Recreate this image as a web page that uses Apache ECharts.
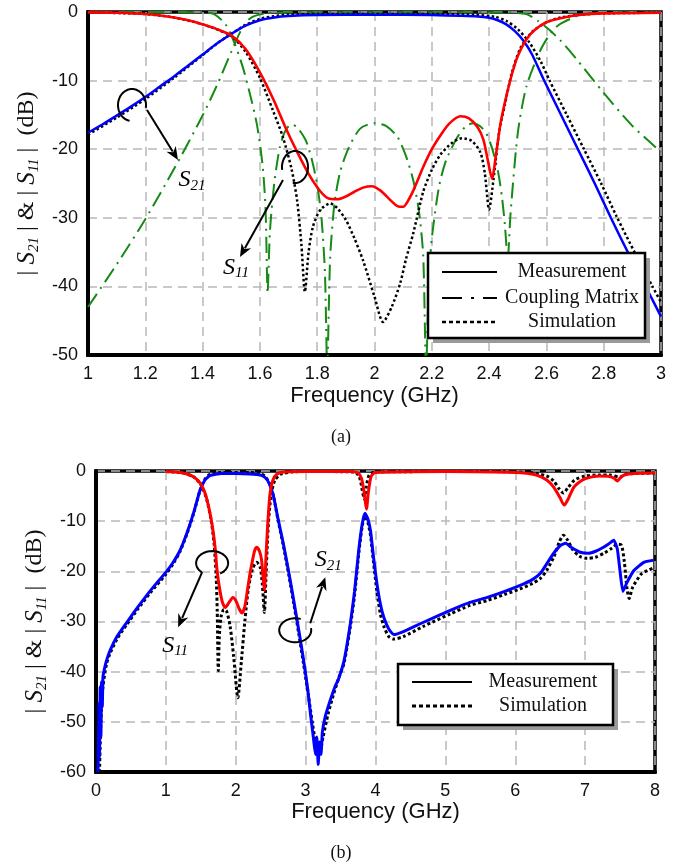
<!DOCTYPE html>
<html><head><meta charset="utf-8">
<script src="https://cdn.jsdelivr.net/npm/echarts@6/dist/echarts.min.js"></script>
<style>html,body{margin:0;padding:0;background:#fff}#c{width:681px;height:867px}</style>
</head><body><div id="c"></div>
<script>
// ---------- (a) 1–3 GHz ----------
const topS21Meas = [[1.0,-17.6],[1.05,-16.4],[1.1,-15.1],[1.15,-13.8],[1.2,-12.4],[1.25,-10.9],[1.3,-9.4],[1.35,-7.8],[1.4,-6.2],[1.45,-4.6],[1.5,-3.2],[1.55,-2.0],[1.6,-1.2],[1.65,-0.8],[1.7,-0.6],[1.8,-0.45],[2.0,-0.4],[2.2,-0.45],[2.3,-0.55],[2.36,-0.65],[2.4,-0.85],[2.43,-1.2],[2.46,-1.8],[2.49,-2.8],[2.52,-4.2],[2.55,-6.2],[2.59,-9.8],[2.65,-14.9],[2.71,-20],[2.77,-25.1],[2.825,-30],[2.89,-35.5],[2.95,-40.3],[3.0,-44.4]];
const topS21Sim = [[1.0,-17.9],[1.1,-15.4],[1.2,-12.7],[1.3,-9.6],[1.4,-6.3],[1.45,-4.6],[1.5,-3.2],[1.55,-1.9],[1.6,-1.0],[1.65,-0.6],[1.7,-0.4],[1.8,-0.3],[2.0,-0.3],[2.2,-0.3],[2.35,-0.4],[2.42,-0.7],[2.46,-1.3],[2.5,-2.5],[2.54,-4.4],[2.58,-7.2],[2.61,-9.9],[2.67,-14.9],[2.73,-19.9],[2.79,-24.9],[2.845,-29.8],[2.91,-35.2],[2.97,-40],[3.0,-42.3]];
const topS11Meas = [[1.0,-0.05],[1.1,-0.1],[1.2,-0.3],[1.3,-0.8],[1.35,-1.2],[1.4,-1.8],[1.45,-2.5],[1.5,-3.4],[1.55,-5.4],[1.6,-8.8],[1.65,-13],[1.69,-16.9],[1.73,-20.4],[1.77,-23.6],[1.81,-26.1],[1.84,-27.2],[1.87,-27.3],[1.9,-26.9],[1.93,-26.2],[1.96,-25.6],[1.99,-25.4],[2.02,-26],[2.05,-27.2],[2.08,-28.3],[2.1,-28.4],[2.12,-27.3],[2.14,-25.6],[2.17,-22.6],[2.2,-20],[2.23,-18],[2.26,-16.3],[2.3,-15.2],[2.33,-15.5],[2.36,-16.8],[2.38,-18.6],[2.395,-21.5],[2.41,-24.3],[2.425,-20.5],[2.44,-16.2],[2.46,-12.3],[2.48,-9],[2.5,-6.4],[2.53,-4.0],[2.56,-2.6],[2.6,-1.5],[2.65,-0.9],[2.72,-0.4],[2.8,-0.2],[3.0,-0.1]];
const topS11Sim = [[1.0,-0.05],[1.2,-0.3],[1.3,-0.8],[1.4,-1.8],[1.5,-3.5],[1.55,-5.8],[1.6,-9.6],[1.645,-14.3],[1.68,-18.2],[1.71,-22.8],[1.73,-27.5],[1.745,-34],[1.757,-40.8],[1.77,-35],[1.785,-31.3],[1.81,-28.9],[1.845,-27.9],[1.87,-28.6],[1.9,-30.3],[1.93,-33],[1.96,-36.2],[2.0,-41.5],[2.03,-45.2],[2.06,-43],[2.09,-39.5],[2.11,-36],[2.135,-32.3],[2.17,-26.2],[2.2,-23],[2.23,-20.8],[2.27,-19.1],[2.305,-18.4],[2.34,-18.8],[2.37,-20.5],[2.385,-23.5],[2.4,-28.8],[2.415,-24.5],[2.435,-17.5],[2.455,-13.5],[2.48,-8.8],[2.51,-5.2],[2.55,-2.9],[2.6,-1.5],[2.65,-0.8],[2.72,-0.4],[2.8,-0.2],[3.0,-0.1]];
const topCMS21 = [[1.0,-43],[1.1,-36.8],[1.2,-30.2],[1.3,-22.9],[1.4,-15.1],[1.45,-10.7],[1.5,-5.8],[1.53,-3.0],[1.555,-1.3],[1.58,-0.6],[1.62,-0.2],[1.7,-0.05],[2.4,-0.05],[2.48,-0.1],[2.53,-0.3],[2.57,-1.3],[2.61,-2.6],[2.65,-4.2],[2.7,-6.6],[2.8,-11.8],[2.9,-16.6],[3.0,-20.4]];
const topCMS11 = [[1.0,0],[1.4,-0.05],[1.44,-0.3],[1.48,-1.8],[1.51,-4.4],[1.54,-8],[1.565,-11.9],[1.59,-16.5],[1.61,-22.6],[1.62,-29],[1.627,-41],[1.635,-32],[1.65,-25],[1.67,-19.6],[1.69,-17.2],[1.71,-16.4],[1.73,-16.8],[1.76,-18.7],[1.78,-21.3],[1.8,-25.2],[1.815,-30],[1.827,-38],[1.835,-52],[1.845,-36],[1.86,-28],[1.88,-23.3],[1.91,-19.8],[1.95,-17],[2.0,-16.2],[2.04,-16.6],[2.08,-18.2],[2.11,-21],[2.135,-24.5],[2.155,-29],[2.17,-35.5],[2.18,-52],[2.19,-39],[2.2,-33],[2.225,-25.5],[2.25,-21.6],[2.29,-18.2],[2.32,-16.6],[2.345,-16.2],[2.37,-16.7],[2.39,-17.7],[2.41,-19.8],[2.43,-23],[2.445,-27],[2.455,-31],[2.465,-36],[2.475,-29.3],[2.5,-17.7],[2.53,-10.9],[2.58,-5.5],[2.62,-2.8],[2.65,-1.7],[2.72,-0.4],[2.8,-0.1],[3.0,0]];

// ---------- (b) 0–8 GHz ----------
const botS21Meas = [[0.03,-60],[0.04,-46],[0.05,-57],[0.06,-43],[0.07,-53],[0.08,-42],[0.09,-47],[0.1,-41],[0.12,-39.5],[0.15,-37.8],[0.2,-35.8],[0.3,-33],[0.44,-30.2],[0.6,-27.1],[0.77,-24],[0.9,-21.8],[1.0,-20.2],[1.1,-18.3],[1.2,-15.9],[1.3,-12.4],[1.4,-8.2],[1.49,-3.8],[1.56,-1.8],[1.63,-0.9],[1.8,-0.5],[2.0,-0.5],[2.2,-0.6],[2.35,-0.8],[2.42,-1.3],[2.48,-2.5],[2.54,-5],[2.6,-9.2],[2.68,-14.4],[2.76,-20.3],[2.83,-25.8],[2.9,-31.6],[2.97,-37.6],[3.03,-43.5],[3.07,-48.5],[3.11,-53],[3.14,-56.5],[3.16,-53],[3.18,-58.5],[3.2,-54],[3.22,-56.5],[3.24,-52],[3.28,-49],[3.35,-45.8],[3.42,-43],[3.47,-41.5],[3.55,-37.8],[3.64,-30.4],[3.7,-24],[3.76,-15.8],[3.81,-10.5],[3.85,-8.4],[3.89,-9.5],[3.93,-12],[3.97,-17],[4.02,-22.4],[4.07,-26.5],[4.12,-29.2],[4.19,-31.5],[4.26,-32.6],[4.4,-32],[4.68,-30.2],[5.07,-27.8],[5.35,-26.2],[5.6,-25.2],[5.85,-24],[6.07,-22.8],[6.25,-21.6],[6.36,-20.4],[6.45,-18.5],[6.55,-16.4],[6.65,-14.8],[6.72,-14.4],[6.8,-15.2],[6.93,-16.2],[7.05,-16.4],[7.15,-16],[7.25,-15.3],[7.33,-14.6],[7.41,-13.8],[7.46,-15.5],[7.5,-20],[7.54,-24],[7.6,-22.2],[7.7,-19.8],[7.84,-18.2],[7.98,-17.8]];
const botS21Sim = [[0.05,-60],[0.07,-50],[0.1,-43],[0.15,-38.5],[0.2,-36.4],[0.3,-33.5],[0.44,-30.6],[0.6,-27.5],[0.77,-24.4],[1.0,-20.6],[1.1,-18.6],[1.2,-16.1],[1.3,-12.6],[1.4,-8.3],[1.49,-3.8],[1.56,-1.6],[1.63,-0.7],[1.8,-0.3],[2.2,-0.3],[2.35,-0.5],[2.42,-1.1],[2.48,-2.4],[2.54,-5],[2.6,-9.4],[2.68,-14.8],[2.76,-20.8],[2.83,-26.4],[2.9,-32.3],[2.97,-38.4],[3.04,-44.8],[3.1,-50.5],[3.15,-54.5],[3.2,-56],[3.25,-53],[3.32,-48.5],[3.4,-44.5],[3.48,-41],[3.55,-38.3],[3.64,-31],[3.7,-24.8],[3.76,-16.5],[3.81,-11],[3.85,-9],[3.89,-10.2],[3.93,-13],[3.97,-18],[4.02,-24],[4.07,-28.5],[4.12,-31],[4.19,-33],[4.26,-33.5],[4.4,-33],[4.68,-31],[5.07,-28.5],[5.35,-26.8],[5.6,-25.8],[5.85,-24.6],[6.07,-23.5],[6.25,-22.4],[6.36,-21.4],[6.45,-19.8],[6.55,-17.2],[6.63,-14.2],[6.69,-12.8],[6.75,-13.8],[6.82,-15.6],[6.92,-17],[7.03,-17.4],[7.15,-17.2],[7.28,-16.3],[7.38,-15.4],[7.46,-14.6],[7.52,-14.8],[7.56,-18],[7.6,-23.5],[7.63,-25.4],[7.68,-23.2],[7.8,-20.6],[7.9,-19.8],[8.0,-19.2]];
const botS11Meas = [[1.0,-0.1],[1.2,-0.3],[1.3,-0.6],[1.4,-1.2],[1.49,-2.4],[1.55,-4],[1.59,-5.8],[1.64,-9],[1.68,-12.4],[1.71,-16],[1.73,-19.5],[1.77,-23.5],[1.81,-26.2],[1.85,-27.2],[1.9,-26.3],[1.96,-25.2],[2.0,-25.8],[2.05,-27.5],[2.09,-28.3],[2.13,-27],[2.17,-23.5],[2.2,-20.8],[2.23,-18.5],[2.27,-15.9],[2.3,-15.2],[2.34,-16],[2.37,-17.8],[2.39,-21],[2.41,-23.8],[2.43,-18],[2.45,-12.4],[2.47,-8],[2.49,-4.6],[2.53,-1.9],[2.59,-0.6],[2.7,-0.2],[3.0,-0.1],[3.65,-0.1],[3.75,-0.4],[3.8,-1.5],[3.84,-4.5],[3.87,-7.6],[3.9,-4],[3.94,-1],[4.0,-0.3],[5.0,-0.1],[6.0,-0.3],[6.3,-0.8],[6.45,-1.8],[6.55,-3.2],[6.64,-5.3],[6.7,-6.8],[6.76,-5.5],[6.84,-3.2],[6.95,-1.9],[7.03,-1.4],[7.2,-1.0],[7.35,-1.1],[7.42,-1.5],[7.46,-2.0],[7.5,-1.4],[7.56,-0.8],[7.7,-0.5],[8.0,-0.4]];
const botS11Sim = [[1.0,-0.1],[1.2,-0.3],[1.3,-0.6],[1.4,-1.2],[1.49,-2.5],[1.55,-4.2],[1.6,-6.5],[1.65,-10],[1.69,-14.5],[1.72,-21],[1.735,-28],[1.75,-39.8],[1.765,-33],[1.79,-29],[1.83,-27.6],[1.87,-28],[1.92,-31],[1.97,-37],[2.03,-45.2],[2.08,-38],[2.13,-30],[2.18,-23.5],[2.24,-19.5],[2.3,-18.2],[2.35,-19.2],[2.38,-22.5],[2.41,-28.2],[2.43,-22],[2.455,-13.5],[2.48,-8],[2.51,-4.5],[2.56,-1.8],[2.65,-0.6],[2.8,-0.2],[3.0,-0.1],[3.7,-0.2],[3.77,-1.2],[3.81,-3.8],[3.84,-5.6],[3.87,-3],[3.91,-0.8],[4.0,-0.2],[5.5,-0.1],[6.2,-0.3],[6.45,-1],[6.55,-2],[6.63,-3.6],[6.69,-4.4],[6.75,-3.4],[6.85,-1.8],[7.0,-1.0],[7.2,-0.8],[7.35,-0.8],[7.5,-1.2],[7.6,-0.6],[8.0,-0.4]];

const legendTop = ['Measurement','Coupling Matrix','Simulation'];
const legendBot = ['Measurement','Simulation'];

const SANS = 'Liberation Sans, Arial, sans-serif';
const SERIF = 'Liberation Serif, Times New Roman, serif';
const chart = echarts.init(document.getElementById('c'), null, {renderer:'canvas'});

const yRich = {
  b:{fontFamily:SERIF,fontSize:24,color:'#111',lineHeight:28},
  s:{fontFamily:SERIF,fontStyle:'italic',fontSize:25,color:'#111',lineHeight:28},
  sub:{fontFamily:SERIF,fontStyle:'italic',fontSize:15,color:'#111',lineHeight:28,verticalAlign:'bottom'}
};
const yName = '{b|| }{s|S}{sub|21}{b| | & | }{s|S}{sub|11}{b| |  (dB)}';
function xAx(g,min,max,iv,gap){return {type:'value',gridIndex:g,min,max,interval:iv,name:'Frequency (GHz)',nameLocation:'middle',nameGap:gap,
  nameTextStyle:{fontFamily:SANS,fontSize:22,color:'#111'},
  axisLine:{show:true,onZero:false,lineStyle:{color:'#000',width:4}},axisTick:{show:false},
  axisLabel:{fontFamily:SANS,fontSize:18,color:'#111',margin:10},
  splitLine:{show:true,lineStyle:{color:'#b8b8b8',type:[9,6],width:1.5}}};}
function yAx(g,min,max,iv,gap){return {type:'value',gridIndex:g,min,max,interval:iv,name:yName,nameLocation:'middle',nameRotate:90,nameGap:gap,
  nameTextStyle:{fontFamily:SERIF,fontSize:24,color:'#111',rich:yRich},
  axisLine:{show:true,onZero:false,lineStyle:{color:'#000',width:4}},axisTick:{show:false},
  axisLabel:{fontFamily:SANS,fontSize:18,color:'#111',margin:10},
  splitLine:{show:true,lineStyle:{color:'#b8b8b8',type:[9,6],width:1.5}}};}
function ser(g,data,color,width,type,smooth){return {type:'line',xAxisIndex:g,yAxisIndex:g,data,showSymbol:false,symbol:'none',
  smooth:smooth===undefined?0.25:smooth,lineStyle:{color,width,type},animation:false,silent:true};}

const GREEN='#158a15', DASHDOT=[16,6,2,6];
chart.setOption({
  animation:false,
  backgroundColor:'#fff',
  grid:[{left:88,top:12,width:573,height:343,show:true,borderColor:'#000',borderWidth:3.5,backgroundColor:'transparent',outerBoundsMode:'none'},
        {left:96,top:471,width:559,height:301,show:true,borderColor:'#000',borderWidth:3.5,backgroundColor:'transparent',outerBoundsMode:'none'}],
  xAxis:[xAx(0,1,3,0.2,30),xAx(1,0,8,1,28)],
  yAxis:[yAx(0,-50,0,10,44),yAx(1,-60,0,10,46)],
  series:[
    ser(0,topCMS21,GREEN,2,DASHDOT),
    ser(0,topCMS11,GREEN,2,DASHDOT),
    ser(0,topS21Sim,'#000',2.5,[2.5,2.5]),
    ser(0,topS11Sim,'#000',2.5,[2.5,2.5]),
    ser(0,topS21Meas,'#0000ff',2.5,'solid'),
    ser(0,topS11Meas,'#ff0000',2.6,'solid'),
    ser(1,botS21Sim,'#000',3,[3,2.5]),
    ser(1,botS11Sim,'#000',3,[3,2.5]),
    ser(1,botS21Meas,'#0000ff',3,'solid',0.15),
    ser(1,botS11Meas,'#ff0000',3,'solid')
  ]
});

// ---------- annotations & legends ----------
const G = [];
const P = (g,pt)=>chart.convertToPixel({gridIndex:g},pt);
function ellipseArc(c,rx,ry,a0,a1){const pts=[];for(let a=a0;a<=a1+0.001;a+=5){const r=a*Math.PI/180;pts.push([c[0]+rx*Math.cos(r),c[1]+ry*Math.sin(r)]);}
  G.push({type:'polyline',shape:{points:pts},style:{stroke:'#000',lineWidth:2,fill:null},z:100});}
function arrow(a,b){const dx=b[0]-a[0],dy=b[1]-a[1],L=Math.hypot(dx,dy),ux=dx/L,uy=dy/L,hl=13,hw=5.5;
  const bx=b[0]-ux*hl,by=b[1]-uy*hl,px=-uy,py=ux;
  G.push({type:'line',shape:{x1:a[0],y1:a[1],x2:bx+ux*3,y2:by+uy*3},style:{stroke:'#000',lineWidth:2},z:100});
  G.push({type:'polygon',shape:{points:[[b[0],b[1]],[bx+px*hw,by+py*hw],[b[0]-ux*hl*0.7,b[1]-uy*hl*0.7],[bx-px*hw,by-py*hw]]},style:{fill:'#000'},z:100});}
const labRich = {s:{fontFamily:SERIF,fontStyle:'italic',fontSize:24,color:'#111',lineHeight:26},
  sub:{fontFamily:SERIF,fontStyle:'italic',fontSize:15,color:'#111',lineHeight:26,verticalAlign:'bottom'}};
function slabel(p,t){G.push({type:'text',x:p[0],y:p[1],style:{text:'{s|S}{sub|'+t+'}',rich:labRich,align:'center',verticalAlign:'middle'},z:100});}

// (a)
ellipseArc(P(0,[1.1536,-13.56]),14,16,100,370);
arrow(P(0,[1.206,-14.29]),P(0,[1.314,-21.57]));
slabel(P(0,[1.363,-24.5]),'21');
ellipseArc(P(0,[1.7225,-22.6]),13,16,170,460);
arrow(P(0,[1.6806,-24.49]),P(0,[1.5305,-35.71]));
slabel(P(0,[1.5166,-37.3]),'11');
// (b)
ellipseArc(P(1,[1.662,-18.36]),16,12,130,420);
arrow(P(1,[1.519,-20.16]),P(1,[1.175,-31.14]));
slabel(P(1,[1.132,-34.73]),'11');
ellipseArc(P(1,[2.851,-31.74]),16,12,-10,290);
arrow(P(1,[3.066,-30.34]),P(1,[3.281,-21.16]));
slabel(P(1,[3.324,-17.76]),'21');

// legends
function legendBox(x,y,w,h,rows,lineX0,lineX1,textX,styles){
  G.push({type:'rect',shape:{x:x+5,y:y+5,width:w,height:h},style:{fill:'#9a9a9a'},z:110});
  G.push({type:'rect',shape:{x,y,width:w,height:h},style:{fill:'#fff',stroke:'#000',lineWidth:2.5},z:111});
  rows.forEach((r,i)=>{
    G.push({type:'line',shape:{x1:lineX0,y1:r.y,x2:lineX1,y2:r.y},style:{stroke:'#000',lineWidth:styles[i].w,lineDash:styles[i].d},z:112});
    G.push({type:'text',x:textX,y:r.y,style:{text:r.t,fontFamily:SERIF,fontSize:20,fill:'#111',align:'center',verticalAlign:'middle'},z:112});
  });
}
legendBox(428,253,217,85,[{t:legendTop[0],y:272},{t:legendTop[1],y:298},{t:legendTop[2],y:322}],442,497,572,
  [{w:2,d:null},{w:2.2,d:[20,9,3,9]},{w:2.6,d:[4,3]}]);
legendBox(398,664,215,61,[{t:legendBot[0],y:682},{t:legendBot[1],y:706}],412,472,543,
  [{w:2.2,d:null},{w:2.8,d:[4,3]}]);

G.push({type:'text',x:341,y:437,style:{text:'(a)',fontFamily:SERIF,fontSize:18,fill:'#111',align:'center',verticalAlign:'middle'}});
G.push({type:'text',x:341,y:853,style:{text:'(b)',fontFamily:SERIF,fontSize:18,fill:'#111',align:'center',verticalAlign:'middle'}});
chart.setOption({graphic:G});
</script></body></html>
